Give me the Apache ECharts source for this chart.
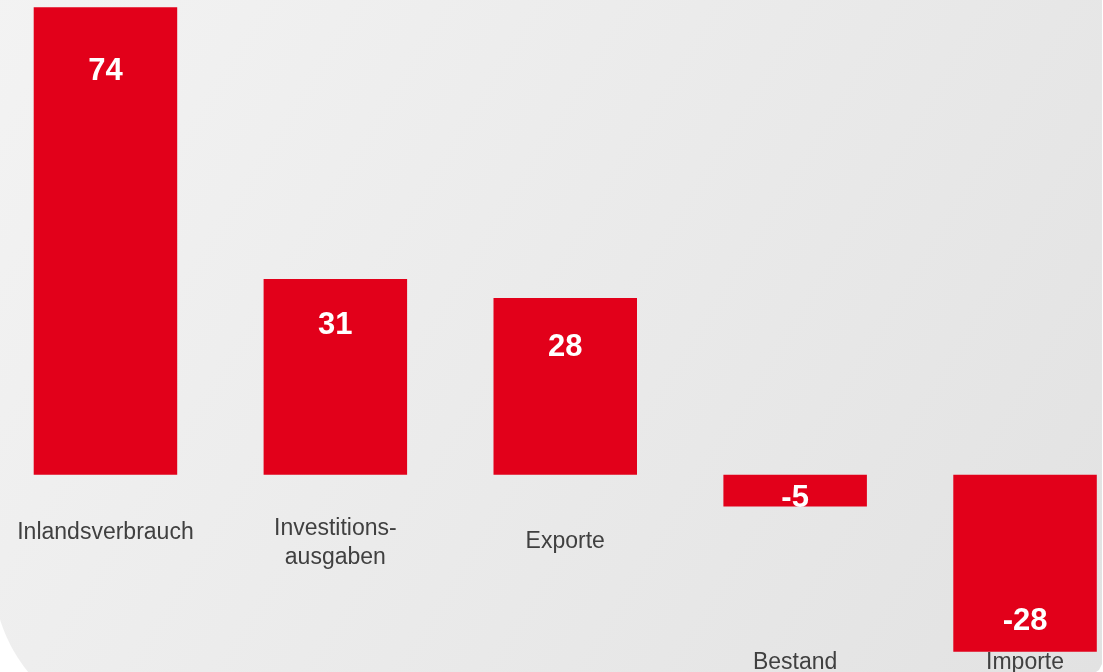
<!DOCTYPE html>
<html>
<head>
<meta charset="utf-8">
<script src="https://cdn.jsdelivr.net/npm/echarts@6/dist/echarts.min.js"></script>
<style>
html,body{margin:0;padding:0;background:#ffffff;}
#chart{width:1103px;height:672px;}
</style>
</head>
<body>
<div id="chart"></div>
<script>
// ---- data ----
var categories = ['Inlandsverbrauch', 'Investitions-\nausgaben', 'Exporte', 'Bestand', 'Importe'];
var values = [74, 31, 28, -5, -28];

// ---- layout helpers (label placement, not data) ----
var valueLabelOffsets = [-170, -51, -39, 8, 58];
var categoryLabelGaps = [43, 39, 52, 173, 173];

var chart = echarts.init(document.getElementById('chart'), null, {renderer: 'canvas'});

var rich = {
  t: {fontFamily: 'Liberation Sans, Arial, sans-serif', fontSize: 23, lineHeight: 29, color: '#404040'}
};
categoryLabelGaps.forEach(function (g, i) {
  rich['g' + i] = {fontSize: 1, lineHeight: g, height: g};
});

// background panel outline (decorative): rounded bottom-left corner
var panelPts = [[-10, -10], [1102, -10], [1102, 664], [1099, 670], [1096, 672]];
(function () {
  var cx = 150, cy = 573, r = 157;
  var a0 = Math.asin((672 - cy) / r);
  var a1 = Math.asin((618 - cy) / r);
  var n = 24;
  for (var j = 0; j <= n; j++) {
    var a = a0 + (a1 - a0) * j / n;
    panelPts.push([cx - r * Math.cos(a), cy + r * Math.sin(a)]);
  }
})();
panelPts.push([-10, 618]);

var option = {
  backgroundColor: 'transparent',
  animation: false,
  graphic: [{
    type: 'polygon',
    z: -10,
    silent: true,
    shape: {points: panelPts},
    style: {
      fill: {
        type: 'linear', x: 0, y: 0, x2: 1, y2: 1,
        colorStops: [
          {offset: 0, color: '#f3f3f3'},
          {offset: 1, color: '#e2e2e2'}
        ]
      }
    }
  }],
  grid: {left: -9.5, right: -37, top: 7.3, bottom: 20.3, containLabel: false, outerBoundsMode: 'none'},
  xAxis: {
    type: 'category',
    data: categories,
    axisLine: {show: false, onZero: false},
    axisTick: {show: false},
    axisLabel: {
      interval: 0,
      margin: -176.7,
      hideOverlap: false,
      formatter: function (v, i) {
        return '{g' + i + '| }\n' + v.split('\n').map(function (s) { return '{t|' + s + '}'; }).join('\n');
      },
      rich: rich
    }
  },
  yAxis: {
    type: 'value',
    min: -28,
    max: 74,
    show: false,
    splitLine: {show: false}
  },
  series: [{
    type: 'bar',
    barWidth: 143.5,
    itemStyle: {color: '#e2001a'},
    data: values.map(function (v, i) {
      return {
        value: v,
        label: {offset: [0, valueLabelOffsets[i]]}
      };
    }),
    label: {
      show: true,
      position: 'inside',
      color: '#ffffff',
      fontFamily: 'Liberation Sans, Arial, sans-serif',
      fontWeight: 'bold',
      fontSize: 31
    }
  }]
};
chart.setOption(option);
</script>
</body>
</html>
